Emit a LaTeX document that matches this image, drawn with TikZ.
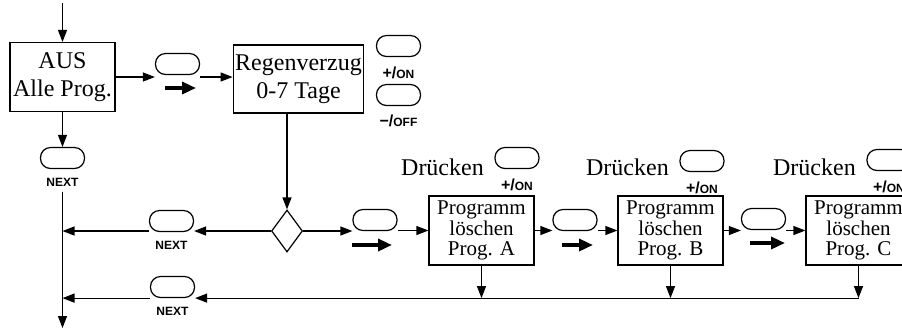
\documentclass[tikz,border=0pt]{standalone}
\usepackage{fontspec}
\setmainfont{Liberation Serif}
\setsansfont{Liberation Sans}
\usetikzlibrary{arrows.meta,positioning,shapes.geometric}

\newcommand{\plusON}{{\fontsize{8}{8}\selectfont +/}ON}
\newcommand{\minusOFF}{{\fontsize{8}{8}\selectfont −/}OFF}

\begin{document}
\begin{tikzpicture}[x=0.5pt,y=-0.5pt,->,>={Stealth[length=6pt,width=4.5pt,inset=0pt]},semithick,
	box/.style={draw,-,minimum width=52.5pt,minimum height=34.5pt,inner sep=1pt,align=center,font=\fontsize{12}{14}\selectfont},
	prog/.style={box,font=\fontsize{10.5}{10.3}\selectfont},
	taste/.style={draw,-,rounded corners=5pt,minimum width=22pt,minimum height=10.5pt,inner sep=0pt},
	raute/.style={draw,-,diamond,minimum width=15.5pt,minimum height=21pt,inner sep=0pt},
	beschr/.style={inner sep=0pt,font=\sffamily\bfseries\fontsize{6}{6}\selectfont},
	druck/.style={inner sep=0pt,font=\fontsize{12}{14}\selectfont},
	pfeil/.style={->,line width=1.7pt,>={Triangle[length=7pt,width=6pt]}}]

	\clip (0,0) rectangle (902,329);

	\node[box] (aus) at (62.5,77) {AUS\\Alle Prog.};
	\node[box,minimum width=64.5pt,minimum height=34pt] (regen) at (298.5,79) {Regenverzug\\0-7 Tage};
	\node[raute] (r_1) at (287,231) {};

	\node[taste] (t_aus) at (177.5,64) {};
	\node[taste] (t_next) at (62.5,158) {};
	\node[beschr, below=4.5pt of t_next] (l_next) {NEXT};
	\node[taste] (t_on) at (398.5,46) {};
	\node[beschr, below=4.5pt of t_on] (l_on) {\plusON};
	\node[taste] (t_off) at (398.5,95) {};
	\node[beschr, below=4.3pt of t_off] (l_off) {\minusOFF};
	\node[taste] (t_n2) at (171.5,221) {};
	\node[beschr, below=4.5pt of t_n2] (l_n2) {NEXT};
	\node[taste] (t_n3) at (172.5,287) {};
	\node[beschr, below=4.5pt of t_n3] (l_n3) {NEXT};

	\node[prog] (p_a) at (481.5,230.5) {Programm\\löschen\\Prog. A};
	\node[prog] (p_b) at (670.5,230.5) {Programm\\löschen\\Prog. B};
	\node[prog] (p_c) at (858.5,230.5) {Programm\\löschen\\Prog. C};

	\node[taste] (t_a) at (375,220) {};
	\node[taste] (t_b) at (575,220) {};
	\node[taste] (t_c) at (763.5,219) {};

	\node[taste] (t_pa) at (517,158) {};
	\node[beschr, below=4.5pt of t_pa] (l_pa) {\plusON};
	\node[druck, left=5pt of t_pa, yshift=-4.5pt] (d_a) {Drücken};
	\node[taste] (t_pb) at (702,161) {};
	\node[beschr, below=4.5pt of t_pb] (l_pb) {\plusON};
	\node[druck, left=5pt of t_pb, yshift=-3pt] (d_b) {Drücken};
	\node[taste] (t_pc) at (889,160) {};
	\node[beschr, below=4.5pt of t_pc] (l_pc) {\plusON};
	\node[druck, left=5pt of t_pc, yshift=-3.5pt] (d_c) {Drücken};

	\coordinate (start) at (62.5,3);
	\coordinate (ende) at (62.5,328);

	\draw (start) -- (aus.north);
	\draw (aus.south) -- (t_next.north);
	\draw[shorten <=2pt] (l_next.south) -- (ende);
	\draw (aus.east) -- (aus.east -| t_aus.west);
	\draw (t_aus.east |- aus.east) -- (regen.west |- aus.east);
	\draw (r_1 |- regen.south) -- (r_1.north);
	\draw (r_1.west) -- (r_1.west -| t_n2.east);
	\draw (t_n2.west |- r_1.west) -- (aus.south |- r_1.west);
	\draw (r_1.east) -- (r_1.east -| t_a.west);
	\draw (t_a.east |- p_a.west) -- (p_a.west);
	\draw (p_a.east) -- (p_a.east -| t_b.west);
	\draw (t_b.east |- p_b.west) -- (p_b.west);
	\draw (p_b.east) -- (p_b.east -| t_c.west);
	\draw (t_c.east |- p_c.west) -- (p_c.west);

	\draw (p_a.south) -- (p_a.south |- t_n3.south);
	\draw (p_b.south) -- (p_b.south |- t_n3.south);
	\draw (p_c.south) -- (p_c.south |- t_n3.south);
	\draw (p_c.south |- t_n3.south) -- (t_n3.east |- t_n3.south);
	\draw (t_n3.west |- t_n3.south) -- (aus.south |- t_n3.south);

	\draw[pfeil] ([shift={(-12.5,24)}]t_aus.center) -- ++(31,0);
	\draw[pfeil] ([shift={(-23,25)}]t_a.center) -- ++(40,0);
	\draw[pfeil] ([shift={(-13,25)}]t_b.center) -- ++(31,0);
	\draw[pfeil] ([shift={(-13.5,24)}]t_c.center) -- ++(35,0);

\end{tikzpicture}
\end{document}
